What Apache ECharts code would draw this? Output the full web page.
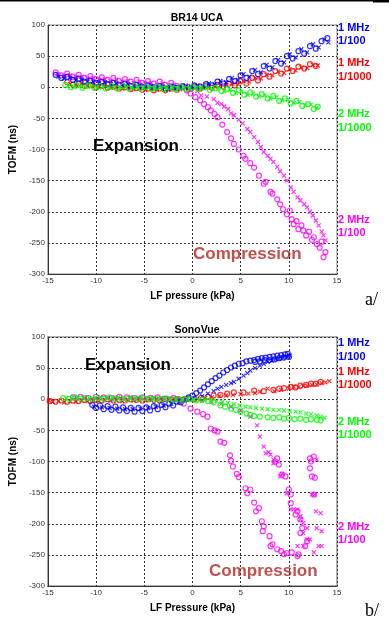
<!DOCTYPE html>
<html>
<head>
<meta charset="utf-8">
<script src="https://cdn.jsdelivr.net/npm/echarts@6.0.0/dist/echarts.min.js"></script>
<style>
html, body { margin: 0; padding: 0; background: #fff; }
#chart { width: 389px; height: 626px; }
</style>
</head>
<body>
<div id="chart"></div>
<script>
// axis ranges
var xTicks = [-15, -10, -5, 0, 5, 10, 15];
var yTicks = [-300, -250, -200, -150, -100, -50, 0, 50, 100];

// ---- a/ BR14 UCA ----  [LF pressure kPa, TOFM ns]
var aBlueO = [[-14.2,20],[-13.6,15],[-13,17],[-12.4,12],[-11.8,14],[-11.2,9],[-10.6,11],[-10,7],[-9.4,9],[-8.8,5],[-8.2,7],[-7.6,4],[-7,6],[-6.4,2],[-5.8,4],[-5.2,1],[-4.6,3],[-4,0],[-3.4,2],[-2.8,-2],[-2.2,1],[-1.6,-1],[-1,2],[-0.4,0],[0.2,3],[0.8,1],[1.4,5],[2,3],[2.6,9],[3.2,6],[3.8,13],[4.4,10],[5,19],[5.6,15],[6.2,26],[6.8,21],[7.4,34],[8,30],[8.6,42],[9.2,38],[9.8,50],[10.4,46],[11,58],[11.6,54],[12.2,66],[12.8,62],[13.4,74],[14,79]];
var aBlueX = [[-13.9,17],[-13.3,14],[-12.7,15],[-12.1,11],[-11.5,12],[-10.9,9],[-10.3,9],[-9.7,6],[-9.1,8],[-8.5,5],[-7.9,6],[-7.3,3],[-6.7,5],[-6.1,2],[-5.5,3],[-4.9,0],[-4.3,2],[-3.7,-1],[-3.1,1],[-2.5,-2],[-1.9,0],[-1.3,-1],[-0.7,1],[-0.1,0],[0.5,3],[1.1,2],[1.7,6],[2.3,5],[2.9,10],[3.5,8],[4.1,15],[4.7,12],[5.3,21],[5.9,17],[6.5,28],[7.1,24],[7.7,36],[8.3,32],[8.9,44],[9.5,40],[10.1,53],[10.7,48],[11.3,61],[11.9,56],[12.5,69],[13.1,64],[13.7,77],[14.1,72]];
var aRedO = [[-13,8],[-12.4,4],[-11.8,6],[-11.2,2],[-10.6,4],[-10,0],[-9.4,2],[-8.8,-1],[-8.2,1],[-7.6,-2],[-7,0],[-6.4,-3],[-5.8,-1],[-5.2,-4],[-4.6,-2],[-4,-5],[-3.4,-2],[-2.8,-5],[-2.2,-2],[-1.6,-4],[-1,0],[-0.4,-3],[0.2,1],[0.8,-2],[1.4,2],[2,-1],[2.6,4],[3.2,1],[3.8,6],[4.4,3],[5,10],[5.6,6],[6.2,15],[6.8,11],[7.4,21],[8,17],[8.6,26],[9.2,22],[9.8,30],[10.4,26],[11,33],[11.6,30],[12.2,37],[12.8,34]];
var aRedX = [[-12.7,5],[-12.1,3],[-11.5,5],[-10.9,2],[-10.3,3],[-9.7,0],[-9.1,2],[-8.5,-1],[-7.9,0],[-7.3,-2],[-6.7,-1],[-6.1,-3],[-5.5,-2],[-4.9,-4],[-4.3,-2],[-3.7,-4],[-3.1,-3],[-2.5,-4],[-1.9,-1],[-1.3,-3],[-0.7,0],[-0.1,-2],[0.5,1],[1.1,-1],[1.7,2],[2.3,1],[2.9,3],[3.5,3],[4.1,6],[4.7,5],[5.3,10],[5.9,9],[6.5,15],[7.1,14],[7.7,20],[8.3,19],[8.9,25],[9.5,23],[10.1,29],[10.7,27],[11.3,32],[11.9,31],[12.5,36],[13,35]];
var aGreenO = [[-13.2,4],[-12.6,0],[-12,3],[-11.4,-1],[-10.8,3],[-10.2,-1],[-9.6,2],[-9,-2],[-8.4,2],[-7.8,-2],[-7.2,2],[-6.6,-2],[-6,2],[-5.4,-2],[-4.8,1],[-4.2,-3],[-3.6,1],[-3,-3],[-2.4,1],[-1.8,-3],[-1.2,1],[-0.6,-3],[0,0],[0.6,-3],[1.2,0],[1.8,-4],[2.4,-1],[3,-6],[3.6,-3],[4.2,-9],[4.8,-5],[5.4,-12],[6,-8],[6.6,-15],[7.2,-11],[7.8,-18],[8.4,-14],[9,-22],[9.6,-18],[10.2,-26],[10.8,-22],[11.4,-30],[12,-27],[12.6,-35],[13,-31]];
var aGreenX = [[-12.9,2],[-12.3,0],[-11.7,2],[-11.1,0],[-10.5,1],[-9.9,-1],[-9.3,1],[-8.7,-1],[-8.1,1],[-7.5,-1],[-6.9,1],[-6.3,-1],[-5.7,0],[-5.1,-1],[-4.5,0],[-3.9,-2],[-3.3,0],[-2.7,-2],[-2.1,0],[-1.5,-2],[-0.9,0],[-0.3,-2],[0.3,0],[0.9,-2],[1.5,-1],[2.1,-3],[2.7,-2],[3.3,-6],[3.9,-4],[4.5,-9],[5.1,-7],[5.7,-12],[6.3,-10],[6.9,-15],[7.5,-13],[8.1,-18],[8.7,-16],[9.3,-21],[9.9,-20],[10.5,-25],[11.1,-24],[11.7,-29],[12.3,-28],[12.9,-33]];
var aMagO = [[-14.2,24],[-13.6,19],[-13,22],[-12.4,17],[-11.8,20],[-11.2,15],[-10.6,18],[-10,13],[-9.4,16],[-8.8,12],[-8.2,15],[-7.6,10],[-7,13],[-6.4,9],[-5.8,12],[-5.2,7],[-4.6,10],[-4,6],[-3.4,9],[-2.8,4],[-2.2,7],[-1.6,2],[-1,0],[-0.6,-5],[-0.2,-10],[0.3,-16],[0.8,-21],[1.2,-27],[1.6,-32],[1.9,-37],[2.3,-43],[2.6,-48],[3.1,-60],[3.6,-72],[4,-82],[4.3,-91],[4.8,-100],[5.3,-110],[5.5,-115],[6,-122],[6.4,-129],[6.9,-142],[7.4,-155],[7.6,-152],[8.1,-168],[8.3,-171],[8.8,-180],[9.1,-188],[9.4,-196],[9.8,-204],[10.1,-198],[10.3,-212],[10.5,-220],[10.8,-215],[11,-228],[11.3,-222],[11.5,-230],[11.8,-238],[12.1,-232],[12.4,-245],[12.6,-241],[12.9,-252],[13.2,-258],[13.4,-248],[13.6,-273],[13.8,-265]];
var aMagX = [[-14,21],[-13.3,18],[-12.7,19],[-12.1,16],[-11.5,17],[-10.9,14],[-10.3,15],[-9.7,12],[-9.1,13],[-8.5,10],[-7.9,12],[-7.3,9],[-6.7,10],[-6.1,7],[-5.5,9],[-4.9,6],[-4.3,7],[-3.7,4],[-3.1,6],[-2.5,3],[-1.9,4],[-1.3,2],[-0.7,3],[-0.1,1],[0.5,-6],[0.9,-13],[1.5,-15],[2.2,-19],[2.6,-25],[3,-27],[3.3,-31],[3.7,-35],[4,-42],[4.3,-45],[4.8,-52],[5.2,-58],[5.7,-67],[6,-72],[6.4,-80],[6.8,-88],[7.1,-96],[7.4,-104],[7.8,-110],[8.1,-115],[8.4,-120],[8.8,-128],[9.1,-135],[9.5,-142],[9.8,-150],[10.2,-161],[10.5,-168],[10.9,-177],[11.2,-182],[11.6,-188],[11.9,-193],[12.2,-200],[12.5,-206],[12.8,-214],[13.1,-222],[13.4,-232],[13.6,-238],[13.8,-246]];

// ---- b/ SonoVue ----
var bBlueO = [[-10.4,-9],[-10,-14],[-9.6,-10],[-9.2,-16],[-8.8,-11],[-8.4,-17],[-8,-12],[-7.6,-18],[-7.2,-13],[-6.8,-19],[-6.4,-14],[-6,-20],[-5.6,-14],[-5.2,-19],[-4.8,-13],[-4.4,-18],[-4,-11],[-3.6,-16],[-3.2,-9],[-2.8,-13],[-2.4,-7],[-2,-10],[-1.6,-4],[-1.2,-5],[-0.8,0],[-0.4,3],[0,6],[0.4,10],[0.8,14],[1.2,19],[1.6,24],[2,29],[2.4,34],[2.8,38],[3.2,43],[3.6,47],[4,51],[4.4,54],[4.8,57],[5.2,58],[5.6,61],[6,62],[6.4,63],[6.8,65],[7.2,66],[7.6,67],[8,68],[8.4,69],[8.8,70],[9.2,71],[9.6,72],[9.9,73],[10,68],[9.5,67],[9,66],[8.5,64],[8,63],[7.5,63],[7,61],[6.5,60]];
var bBlueX = [[-10.2,-12],[-9.4,-13],[-8.6,-14],[-7.8,-15],[-7,-16],[-6.2,-16],[-5.4,-15],[-4.6,-14],[-3.8,-12],[-3,-10],[-2.2,-7],[-1.4,-4],[-0.6,-1],[0.2,2],[1,5],[1.6,9],[2.2,13],[2.6,17],[3,20],[3.5,23],[4,26],[4.3,28],[4.8,33],[5.3,38],[5.7,42],[6,46],[6.5,50],[7,54],[7.4,57],[7.8,60],[8.2,62],[8.6,64],[9,65],[9.4,67],[9.8,68],[10.1,70]];
var bRedO = [[-14.8,-3],[-14.2,-4],[-13.6,-2],[-13,-4],[-12.4,-2],[-11.8,-3],[-11.2,-1],[-10.6,-3],[-10,-1],[-9.4,-2],[-8.8,0],[-8.2,-2],[-7.6,-1],[-7,-2],[-6.4,0],[-5.8,-1],[-5.2,-2],[-4.6,0],[-4,-1],[-3.4,-2],[-2.8,0],[-2.2,-1],[-1.6,0],[-1,-1],[-0.4,1],[0.2,0],[0.9,2],[1.6,4],[2.2,6],[2.9,7],[3.6,9],[4.3,11],[5.3,11],[6.4,14],[7.4,13],[8.4,15],[9,17],[9.5,18],[10.2,20],[10.7,19],[11.2,22],[11.8,23],[12.3,25],[12.8,25],[13.3,28]];
var bRedX = [[-14.9,-2],[-14.5,-4],[-13.9,-3],[-13.3,-5],[-12.7,-3],[-12.1,-4],[-11.5,-2],[-10.9,-3],[-10.3,-2],[-9.7,-3],[-9.1,-1],[-8.5,-2],[-7.9,-1],[-7.3,-3],[-6.7,-1],[-6.1,-2],[-5.5,-1],[-4.9,-2],[-4.3,-1],[-3.7,0],[-3.1,-1],[-2.5,-1],[-1.9,1],[-1.3,0],[-0.7,0],[0.5,1],[1.3,2],[2,3],[2.8,5],[3.5,6],[4.2,7],[5,8],[5.8,9],[6.5,10],[7,12],[7.8,17],[8.5,13],[9.2,15],[10,17],[10.5,20],[11,19],[11.5,21],[11.9,22],[12.4,23],[12.9,24],[13.4,26],[13.8,27],[14.2,29]];
var bGreenO = [[-13.4,2],[-12.8,1],[-12.2,3],[-11.6,1],[-11,2],[-10.4,0],[-9.8,2],[-9.2,1],[-8.6,3],[-8,1],[-7.4,2],[-6.8,0],[-6.2,2],[-5.6,1],[-5,2],[-4.4,0],[-3.8,1],[-3.2,0],[-2.6,1],[-2,-1],[-1.4,0],[-0.8,-1],[-0.2,0],[0.4,-2],[1,-1],[1.6,-3],[2.2,-5],[2.9,-10],[3.4,-12],[4,-15],[4.5,-17],[5,-20],[5.6,-23],[6,-25],[6.4,-27],[7,-28],[7.8,-29],[8.4,-30],[9,-29],[9.5,-31],[10,-30],[10.6,-32],[11.2,-31],[11.8,-33],[12.3,-32],[12.9,-33],[13.3,-34]];
var bGreenX = [[-13.1,1],[-12.5,2],[-11.9,2],[-11.3,3],[-10.7,1],[-10.1,2],[-9.5,2],[-8.9,1],[-8.3,2],[-7.7,3],[-7.1,1],[-6.5,2],[-5.9,1],[-5.3,3],[-4.7,1],[-4.1,2],[-3.5,1],[-2.9,2],[-2.3,0],[-1.7,1],[-1.1,0],[-0.5,1],[0.1,0],[0.7,-1],[1.3,0],[1.9,-2],[2.5,-3],[3.1,-4],[3.7,-6],[4.3,-8],[4.9,-10],[5.5,-12],[6,-13],[6.6,-14],[7.2,-15],[7.8,-16],[8.4,-17],[9,-17],[9.5,-18],[10.1,-19],[10.7,-20],[11.2,-21],[11.8,-23],[12.3,-24],[12.9,-26],[13.3,-28],[13.7,-30]];
var bMagO = [[-12.4,3],[-11.6,4],[-10.8,2],[-10,4],[-9.2,3],[-8.4,2],[-7.6,4],[-6.8,3],[-6,2],[-5.2,3],[-4.4,2],[-3.6,3],[-2.8,1],[-2,2],[-1.4,0],[-0.9,-7],[-0.2,-15],[0.5,-20],[1.1,-24],[1.55,-28],[1.9,-47],[2.3,-50],[2.6,-52],[2.9,-68],[3.3,-70],[3.9,-90],[4,-99],[4.2,-108],[4.6,-120],[4.8,-125],[5.5,-143],[5.7,-151],[6,-145],[6.4,-166],[6.6,-180],[6.9,-175],[7.2,-196],[7.4,-204],[7.3,-212],[8,-220],[8.1,-236],[8.3,-233],[8.8,-241],[9.2,-244],[9.5,-249],[9.8,-247],[10.3,-246],[10.9,-252],[11,-249],[11.7,-236],[11.9,-228],[11.2,-215],[11.4,-207],[11.2,-193],[10.7,-185],[10.9,-180],[10.2,-167],[10.2,-153],[10,-145],[9.65,-124],[9.3,-121],[8.96,-105],[8.6,-100],[8.8,-95],[12.2,-95],[12.6,-92],[12.3,-100],[12.2,-111],[12.4,-124],[12.7,-126],[12.6,-153]];
var bMagX = [[-12,2],[-11.2,3],[-10.4,1],[-9.6,3],[-8.8,2],[-8,3],[-7.2,1],[-6.4,3],[-5.6,2],[-4.8,1],[-4,3],[-3.2,2],[-2.4,1],[-1.6,2],[-0.8,1],[0,0],[1,-2],[2,-4],[3,-7],[4,-12],[5,-18],[6,-28],[6.7,-42],[7,-60],[7.4,-76],[7.6,-87],[7.9,-85],[8.1,-89],[8.4,-97],[8.4,-103],[9.1,-124],[9.3,-120],[9.8,-151],[10.2,-177],[10.5,-177],[10.9,-177],[11.2,-188],[11.2,-193],[11.5,-199],[11.9,-207],[11.5,-215],[11.9,-225],[12.2,-225],[12.6,-246],[10.9,-236],[11.5,-236],[12.8,-180],[13.3,-183],[12.9,-207],[13.4,-212],[13.1,-236],[13.4,-236],[12.4,-153],[12.7,-153],[12.9,-97]];

var BLUE = '#0000ff', RED = '#ff0000', GREEN = '#00ff00', MAG = '#ff00ff';
var CROSS = 'path://M0,0L10,10M10,0L0,10';

var myChart = echarts.init(document.getElementById('chart'));

function mk(data, gi, color, cross) {
    return {
        type: 'scatter',
        xAxisIndex: gi,
        yAxisIndex: gi,
        data: data,
        symbol: cross ? CROSS : 'circle',
        symbolSize: cross ? 4 : 5,
        silent: true,
        animation: false,
        itemStyle: {
            color: cross ? color : 'rgba(0,0,0,0)',
            borderColor: color,
            borderWidth: 1.2
        }
    };
}

function xAx(gi, name) {
    return {
        gridIndex: gi, type: 'value',
        min: xTicks[0], max: xTicks[xTicks.length - 1], interval: 5,
        name: name, nameLocation: 'middle', nameGap: 17,
        nameTextStyle: { fontFamily: 'Arial', fontWeight: 'bold', fontSize: 10, color: '#000' },
        axisLine: { show: true, onZero: false, lineStyle: { color: '#333', width: 1 } },
        axisTick: { show: false },
        axisLabel: { fontFamily: 'Arial', fontSize: 8, color: '#333', margin: 3 },
        splitLine: { show: true, lineStyle: { color: '#333', width: 1, type: [2, 2] } }
    };
}
function yAx(gi) {
    return {
        gridIndex: gi, type: 'value',
        min: yTicks[0], max: yTicks[yTicks.length - 1], interval: 50,
        name: 'TOFM (ns)', nameLocation: 'middle', nameGap: 25, nameRotate: 90,
        nameTextStyle: { fontFamily: 'Arial', fontWeight: 'bold', fontSize: 10, color: '#000' },
        axisLine: { show: true, onZero: false, lineStyle: { color: '#333', width: 1 } },
        axisTick: { show: false },
        axisLabel: { fontFamily: 'Arial', fontSize: 8, color: '#333', margin: 3 },
        splitLine: { show: true, lineStyle: { color: '#333', width: 1, type: [2, 2] } }
    };
}

function txt(x, y, s, color, font, align) {
    return {
        type: 'text', x: x, y: y, silent: true,
        style: { text: s, fill: color, font: font, align: align || 'left', verticalAlign: 'middle' }
    };
}

var LBL = 'bold 11px Arial';
var BIG = 'bold 17px Arial';
var BROWN = '#c0504d';

var option = {
    backgroundColor: '#fff',
    animation: false,
    title: [
        { text: 'BR14 UCA', left: 192, top: 8, textAlign: 'center',
          textStyle: { fontFamily: 'Arial', fontWeight: 'bold', fontSize: 10.5, color: '#000' } },
        { text: 'SonoVue', left: 192, top: 320, textAlign: 'center',
          textStyle: { fontFamily: 'Arial', fontWeight: 'bold', fontSize: 10.5, color: '#000' } }
    ],
    grid: [
        { left: 47, top: 25, width: 290, height: 249, show: true, borderColor: '#888', borderWidth: 1 },
        { left: 47, top: 337, width: 290, height: 249, show: true, borderColor: '#999', borderWidth: 1.5 }
    ],
    xAxis: [xAx(0, 'LF pressure (kPa)'), xAx(1, 'LF Pressure (kPa)')],
    yAxis: [yAx(0), yAx(1)],
    series: [
        mk(aRedO, 0, RED, false), mk(aRedX, 0, RED, true),
        mk(aMagO, 0, MAG, false), mk(aMagX, 0, MAG, true),
        mk(aBlueO, 0, BLUE, false), mk(aBlueX, 0, BLUE, true),
        mk(aGreenO, 0, GREEN, false), mk(aGreenX, 0, GREEN, true),
        mk(bRedO, 1, RED, false), mk(bRedX, 1, RED, true),
        mk(bMagO, 1, MAG, false), mk(bMagX, 1, MAG, true),
        mk(bBlueO, 1, BLUE, false), mk(bBlueX, 1, BLUE, true),
        mk(bGreenO, 1, GREEN, false), mk(bGreenX, 1, GREEN, true)
    ],
    graphic: [
        { type: 'rect', shape: { x: 0, y: 0, width: 373, height: 1.5 }, style: { fill: '#000' }, silent: true },
        { type: 'rect', shape: { x: 373, y: 0, width: 16, height: 2.5 }, style: { fill: '#000' }, silent: true },
        // a/ labels
        txt(338, 28, '1 MHz', BLUE, LBL), txt(338, 41, '1/100', BLUE, LBL),
        txt(338, 63, '1 MHz', RED, LBL), txt(338, 77, '1/1000', RED, LBL),
        txt(338, 114, '2 MHz', GREEN, LBL), txt(338, 128, '1/1000', GREEN, LBL),
        txt(338, 220, '2 MHz', MAG, LBL), txt(338, 233, '1/100', MAG, LBL),
        txt(93, 146, 'Expansion', '#000', BIG),
        txt(193, 254, 'Compression', BROWN, BIG),
        txt(365, 300, 'a/', '#000', '18px "Liberation Serif", serif'),
        // b/ labels
        txt(338, 343, '1 MHz', BLUE, LBL), txt(338, 357, '1/100', BLUE, LBL),
        txt(338, 372, '1 MHz', RED, LBL), txt(338, 385, '1/1000', RED, LBL),
        txt(338, 422, '2 MHz', GREEN, LBL), txt(338, 435, '1/1000', GREEN, LBL),
        txt(338, 527, '2 MHz', MAG, LBL), txt(338, 540, '1/100', MAG, LBL),
        txt(85, 365, 'Expansion', '#000', BIG),
        txt(209, 571, 'Compression', BROWN, BIG),
        txt(365, 611, 'b/', '#000', '18px "Liberation Serif", serif')
    ]
};
myChart.setOption(option);
</script>
</body>
</html>
